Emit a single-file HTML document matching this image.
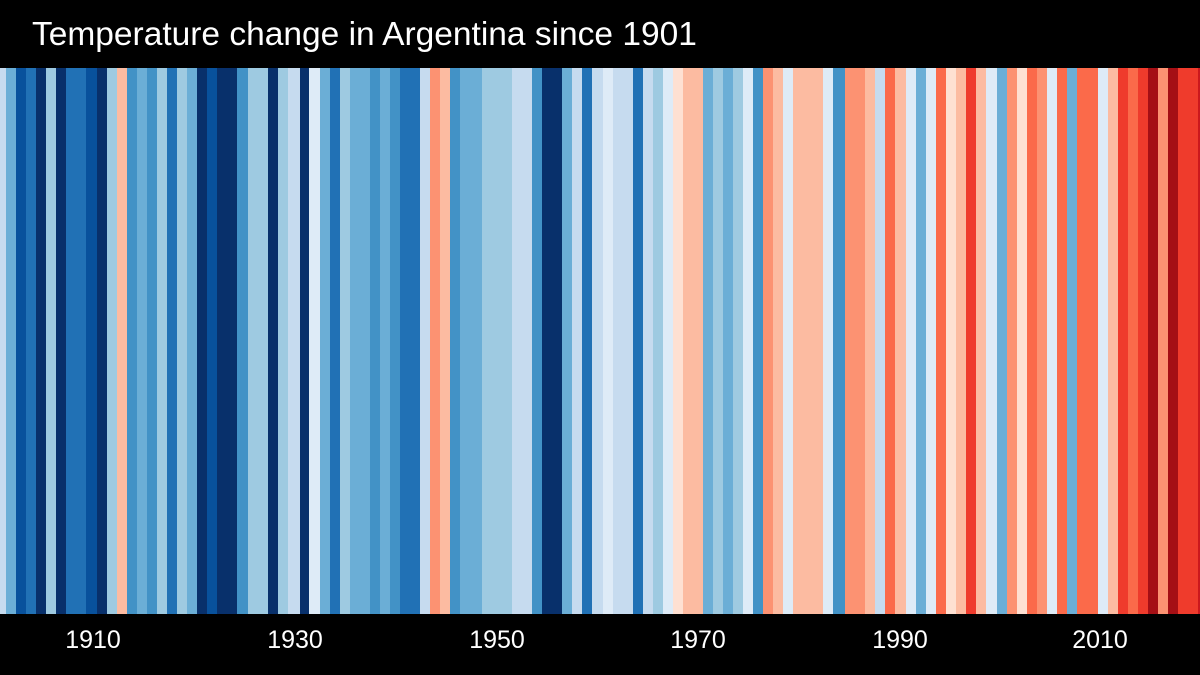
<!DOCTYPE html>
<html><head><meta charset="utf-8"><style>
body{margin:0;width:1200px;height:675px;background:#000;position:relative;overflow:hidden;font-family:"Liberation Sans",sans-serif;}
#s{position:absolute;left:0;top:68px;width:1200px;height:546px;}
#s div{position:absolute;top:0;height:546px;}
.t{position:absolute;color:#fff;}
.k{position:absolute;top:626px;font-size:25px;color:#fff;width:100px;text-align:center;margin-left:-50px;}
</style></head><body>
<div class="t" style="left:32px;top:16px;font-size:33.5px;">Temperature change in Argentina since 1901</div>
<div id="s"></div>
<div class="k" style="left:93px">1910</div>
<div class="k" style="left:295px">1930</div>
<div class="k" style="left:497px">1950</div>
<div class="k" style="left:698px">1970</div>
<div class="k" style="left:900px">1990</div>
<div class="k" style="left:1100px">2010</div>
<script>
var C={B1:"#08306b",B2:"#08519c",B3:"#2171b5",B4:"#4292c6",B5:"#6baed6",B6:"#9ecae1",B7:"#c6dbef",B8:"#deebf7",R8:"#fee0d2",R7:"#fcbba1",R6:"#fc9272",R5:"#fb6a4a",R4:"#ef3b2c",R3:"#cb181d",R2:"#a50f15"};
var Z=[
[0,[[0,"B7"],[18,"B5"],[48,"B2"],[78,"B3"],[108,"B1"],[138,"B6"],[168,"B1"],[198,"B3"],[258,"B2"],[291,"B1"],[321,"B6"],[351,"R7"],[381,"B4"],[411,"B5"],[441,"B4"],[471,"B6"],[501,"B3"],[531,"B6"],[561,"B5"],[591,"B1"],[621,"B2"],[651,"B1"],[711,"B4"],[744,"B6"],[804,"B1"],[834,"B6"],[864,"B7"]]],
[300,[[0,"B1"],[28,"B8"],[60,"B5"],[90,"B3"],[120,"B6"],[150,"B5"],[210,"B4"],[240,"B5"],[270,"B4"],[300,"B3"],[360,"B7"],[390,"R6"],[420,"R7"],[450,"B4"],[480,"B5"],[545,"B6"],[635,"B7"],[695,"B4"],[725,"B1"],[785,"B5"],[815,"B7"],[845,"B3"],[875,"B7"]]],
[600,[[0,"B7"],[10,"B8"],[38,"B7"],[98,"B3"],[128,"B7"],[158,"B6"],[188,"B8"],[218,"R8"],[250,"R7"],[310,"B5"],[340,"B6"],[370,"B5"],[400,"B6"],[430,"B8"],[460,"B4"],[490,"R6"],[520,"R7"],[550,"B8"],[580,"R7"],[670,"B8"],[700,"B4"],[735,"R6"],[795,"R7"],[825,"B7"],[855,"R5"],[885,"R7"]]],
[900,[[0,"R7"],[18,"B8"],[48,"B5"],[78,"B8"],[108,"R5"],[138,"R8"],[168,"R7"],[198,"R4"],[228,"R7"],[258,"B8"],[290,"B5"],[320,"R6"],[350,"R8"],[380,"R5"],[410,"R6"],[440,"B8"],[470,"R5"],[500,"B5"],[530,"R5"],[595,"B8"],[625,"R7"],[655,"R4"],[685,"R5"],[715,"R4"],[745,"R2"],[775,"R6"],[805,"R2"],[835,"R4"],[895,"R3"]]]];
var s=document.getElementById("s"),h="";
Z.forEach(function(z){var a=z[1];for(var i=0;i<a.length;i++){var x0=z[0]+a[i][0]/3,x1=i+1<a.length?z[0]+a[i+1][0]/3:z[0]+300;if(x1<=x0)continue;h+='<div style="left:'+x0.toFixed(2)+'px;width:'+(x1-x0+0.6).toFixed(2)+'px;background:'+C[a[i][1]]+'"></div>';}});
s.innerHTML=h;
</script>
</body></html>
